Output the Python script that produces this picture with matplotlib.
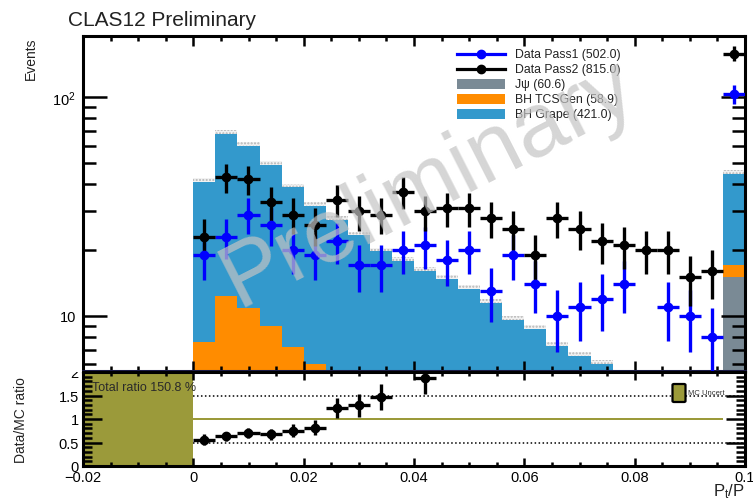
import numpy as np
import matplotlib
matplotlib.use("Agg")
import matplotlib.pyplot as plt
from matplotlib.patches import Rectangle, FancyBboxPatch
from matplotlib.lines import Line2D
from matplotlib.ticker import FixedLocator, FixedFormatter, MultipleLocator, NullFormatter, LogLocator

plt.rcParams['font.family'] = ['Liberation Sans', 'DejaVu Sans']
plt.rcParams['mathtext.fontset'] = 'custom'
plt.rcParams['mathtext.rm'] = 'Liberation Sans'
plt.rcParams['mathtext.it'] = 'Liberation Sans:italic'
plt.rcParams['hatch.linewidth'] = 1.0

# ---- histogram content (Pt/P, 25 bins of 0.004) ----
bin_edges = np.linspace(0.0, 0.1, 26)
pass1 = np.array([19, 23, 29, 26, 20, 19, 22, 17, 17, 20, 21, 18, 20,
                  13, 19, 14, 10, 11, 12, 14, 0, 11, 10, 8, 103], dtype=float)
pass2 = np.array([23, 43, 42, 33, 29, 26, 34, 30, 29, 37, 30, 31, 31,
                  28, 25, 19, 28, 25, 22, 21, 20, 20, 15, 16, 158], dtype=float)
jpsi = np.array([0] * 24 + [15.0])
bh_tcsgen = np.array([7.6, 12.3, 10.9, 9.0, 7.2, 6.0] + [0] * 18 + [2.0])
bh_grape = np.array([33.4, 55.7, 49.1, 40.0, 31.5, 25.8, 27.5, 23.3, 19.7,
                     17.9, 16.0, 14.8, 13.3, 11.5, 9.6, 8.7, 7.3, 6.55, 6.05,
                     0, 0, 0, 0, 0, 27.5])

legend_labels = ["Data Pass1 (502.0)", "Data Pass2 (815.0)", "J\u03c8 (60.6)",
                 "BH TCSGen (58.9)", "BH Grape (421.0)"]
total_ratio_text = "Total ratio 150.8 %"
mc_unc_rel = 0.03

C_P1 = '#0000ff'
C_P2 = '#000000'
C_JPSI = '#7a8a95'
C_TCS = '#ff8c00'
C_GRAPE = '#3399cc'
C_OLIVE = '#9b9a3a'

W, H = 753, 502
fig = plt.figure(figsize=(W / 100, H / 100), dpi=100)


def fx(x):
    return x / W


def fy(y):
    return 1 - y / H


ax1 = fig.add_axes([fx(83), fy(372), (745 - 83) / W, (372 - 37) / H])
ax2 = fig.add_axes([fx(83), fy(467), (745 - 83) / W, (467 - 373) / H])

centers = 0.5 * (bin_edges[:-1] + bin_edges[1:])
half_w = 0.5 * np.diff(bin_edges)
floor = 1e-3

# ---- stacked MC ----
s0 = np.maximum(jpsi, floor)
s1 = np.maximum(jpsi + bh_tcsgen, floor)
total = jpsi + bh_tcsgen + bh_grape
s2 = np.maximum(total, floor)
ax1.stairs(s0, bin_edges, baseline=floor, fill=True, color=C_JPSI, lw=0)
ax1.stairs(s1, bin_edges, baseline=s0, fill=True, color=C_TCS, lw=0)
ax1.stairs(s2, bin_edges, baseline=s1, fill=True, color=C_GRAPE, lw=0)
# MC uncertainty band on the stack top
ax1.stairs(s2 * 1.04, bin_edges, baseline=s2, fill=True, facecolor='#f2f2f2',
           edgecolor='#b5b5b5', hatch='.....', lw=0)

# ---- data ----
for vals, col in ((pass1, C_P1), (pass2, C_P2)):
    m = vals > 0
    ax1.errorbar(centers[m], vals[m], xerr=half_w[m], yerr=np.sqrt(vals[m]),
                 fmt='o', color=col, ms=6, lw=2.4, capsize=0, zorder=5,
                 clip_on=True)

ax1.set_xlim(-0.02, 0.1)
ax1.set_yscale('log')
ax1.set_ylim(5.6, 190)
ax1.yaxis.set_major_locator(FixedLocator([10, 100]))
ax1.yaxis.set_major_formatter(FixedFormatter(['10', r'$10^{2}$']))
ax1.yaxis.set_minor_locator(LogLocator(base=10, subs=np.arange(2, 10)))
ax1.yaxis.set_minor_formatter(NullFormatter())
ax1.xaxis.set_major_locator(MultipleLocator(0.02))
ax1.xaxis.set_minor_locator(MultipleLocator(0.005))
ax1.tick_params(axis='x', which='both', direction='in', top=True, bottom=True,
                labelbottom=False, width=1.8)
ax1.tick_params(axis='x', which='major', length=7)
ax1.tick_params(axis='x', which='minor', length=3.6)
ax1.tick_params(axis='y', which='both', direction='in', left=True, right=True,
                width=1.8, labelsize=10.5, pad=5)
ax1.tick_params(axis='y', which='major', length=17)
ax1.tick_params(axis='y', which='minor', length=9.4)
for sp in ax1.spines.values():
    sp.set_linewidth(2.2)
ax1.spines['bottom'].set_color('#1c1c48')

# ---- ratio pad ----
ratio = np.divide(pass2, total, out=np.full_like(pass2, np.nan), where=total > 0)
ratio_err = np.divide(np.sqrt(pass2), total, out=np.zeros_like(pass2), where=total > 0)
m = np.isfinite(ratio) & (ratio <= 2.0) & (centers < 0.096)
ax2.errorbar(centers[m], ratio[m], xerr=half_w[m], yerr=ratio_err[m], fmt='o',
             color='black', ms=6, lw=2.4, capsize=0, zorder=5)

ax2.fill_between([-0.02, 0.0], 0, 2.0, color=C_OLIVE, lw=0, zorder=1)
ax2.fill_between([0.0, 0.096], 1 - mc_unc_rel, 1 + mc_unc_rel, color=C_OLIVE,
                 lw=0, zorder=1)
ax2.hlines([0.5, 1.5], 0.0, 0.1, colors='black', linestyles=(0, (1, 1.6)), lw=1.1,
           zorder=2)

ax2.set_xlim(-0.02, 0.1)
ax2.set_ylim(0, 2.0)
ax2.xaxis.set_major_locator(FixedLocator([-0.02, 0, 0.02, 0.04, 0.06, 0.08, 0.1]))
ax2.xaxis.set_major_formatter(FixedFormatter(['\u22120.02', '0', '0.02', '0.04',
                                              '0.06', '0.08', '0.1']))
ax2.xaxis.set_minor_locator(MultipleLocator(0.005))
ax2.yaxis.set_major_locator(FixedLocator([0, 0.5, 1, 1.5, 2]))
ax2.yaxis.set_major_formatter(FixedFormatter(['0', '0.5', '1', '1.5', '2']))
ax2.yaxis.set_minor_locator(MultipleLocator(0.1))
ax2.tick_params(axis='x', which='both', direction='in', top=True, bottom=True,
                width=1.8, labelsize=10.5, pad=3)
ax2.tick_params(axis='x', which='major', length=5.8)
ax2.tick_params(axis='x', which='minor', length=2.9)
ax2.tick_params(axis='y', which='both', direction='in', left=True, right=True,
                width=1.8, labelsize=10.5, pad=3)
ax2.tick_params(axis='y', which='major', length=13.5)
ax2.tick_params(axis='y', which='minor', length=6.5)
for sp in ax2.spines.values():
    sp.set_linewidth(2.2)

# upper pad hides the top half of the "2" label
fig.patches.append(Rectangle((fx(40), fy(373)), (82 - 40) / W, (373 - 355) / H,
                             transform=fig.transFigure, facecolor='white',
                             edgecolor='none', zorder=3))

# ---- texts ----
fig.text(fx(68), fy(26), "CLAS12 Preliminary", fontsize=15, ha='left',
         va='baseline', color='#222222')
fig.text(fx(31), fy(38), "Events", rotation=90, fontsize=10, ha='center',
         va='top', color='#222222')
fig.text(fx(21), fy(420), "Data/MC ratio", rotation=90, fontsize=10,
         ha='center', va='center', color='#222222')
fig.text(fx(745), fy(482), r'P$_{\mathrm{t}}$/P', fontsize=12, ha='right',
         va='top', color='#222222')
fig.text(fx(92), fy(388), total_ratio_text, fontsize=9, ha='left', va='center',
         color='#2a2a2a', zorder=6)

# MC uncertainty legend box
fig.patches.append(FancyBboxPatch((fx(674), fy(402)), 10 / W, 16 / H,
                                  boxstyle='round,pad=0.002',
                                  transform=fig.transFigure,
                                  facecolor=C_OLIVE, edgecolor='black', lw=1.6,
                                  zorder=6))
fig.text(fx(688), fy(394), "MC Uncert", fontsize=5.5, ha='left', va='center',
         color='#333333', zorder=6)

# ---- legend ----
rows = [55, 70, 85, 100, 115]
for i, (lab, y) in enumerate(zip(legend_labels, rows)):
    if i < 2:
        col = C_P1 if i == 0 else C_P2
        fig.lines.append(Line2D([fx(457), fx(505)], [fy(y), fy(y)],
                                transform=fig.transFigure, color=col, lw=2.3))
        fig.lines.append(Line2D([fx(481)], [fy(y)], transform=fig.transFigure,
                                color=col, marker='o', ms=6))
    else:
        col = [C_JPSI, C_TCS, C_GRAPE][i - 2]
        fig.patches.append(Rectangle((fx(457), fy(y + 5)), 48 / W, 10 / H,
                                     transform=fig.transFigure, facecolor=col,
                                     edgecolor='none'))
    fig.text(fx(515), fy(y), lab, fontsize=8.8, ha='left', va='center',
             color='#222222')

# ---- watermark ----
fig.text(fx(428), fy(184), "Preliminary", fontsize=65, rotation=27,
         ha='center', va='center', color='#c4c4c4', alpha=0.7, zorder=10)

fig.savefig("out.png", dpi=100)
